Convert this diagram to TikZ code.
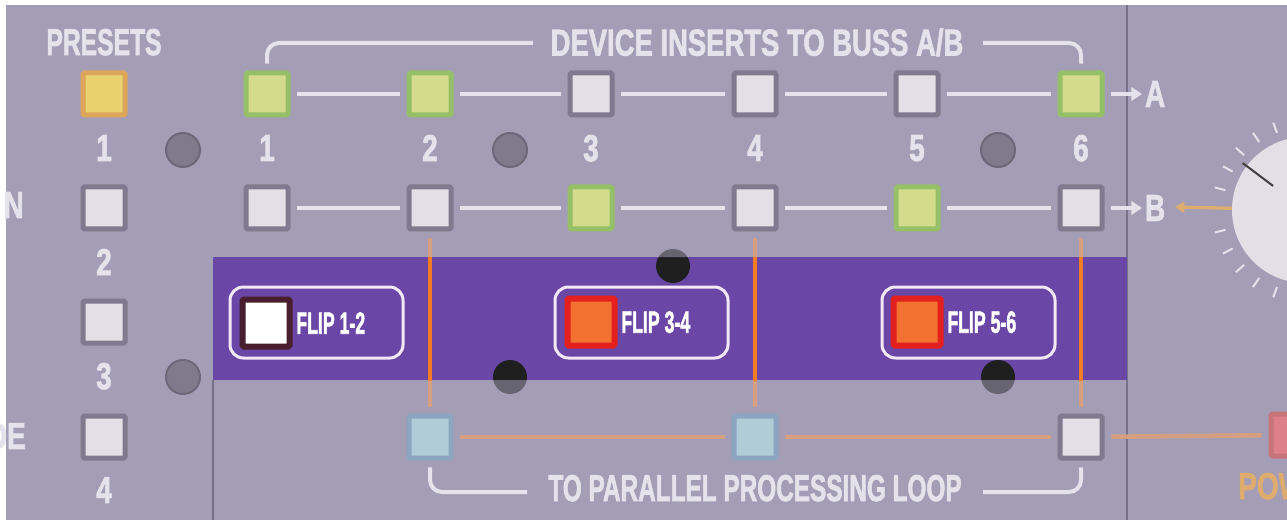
\documentclass[tikz,border=0pt]{standalone}
\usepackage{fontspec}
\setmainfont{Liberation Sans}[BoldFeatures={FakeBold=2.2}]
\usetikzlibrary{positioning,calc,arrows.meta}

\definecolor{panelgray}{RGB}{163,157,182}
\definecolor{bandpurple}{RGB}{106,70,166}
\definecolor{labelwhite}{RGB}{228,226,234}
\definecolor{btnoff}{RGB}{226,224,230}
\definecolor{rimoff}{RGB}{128,122,142}
\definecolor{btngreen}{RGB}{212,220,140}
\definecolor{rimgreen}{RGB}{150,192,104}
\definecolor{btnyellow}{RGB}{232,210,112}
\definecolor{rimyellow}{RGB}{220,165,90}
\definecolor{btnblue}{RGB}{176,204,214}
\definecolor{rimblue}{RGB}{140,165,192}
\definecolor{btnred}{RGB}{242,112,48}
\definecolor{rimred}{RGB}{228,32,30}
\definecolor{rimdark}{RGB}{72,30,46}
\definecolor{flipframe}{RGB}{242,232,246}
\definecolor{orangehot}{RGB}{244,124,36}
\definecolor{orangedim}{RGB}{214,160,128}
\definecolor{ledgray}{RGB}{128,122,140}
\definecolor{dividergray}{RGB}{118,112,138}
\definecolor{pwrred}{RGB}{222,128,136}
\definecolor{pwrtext}{RGB}{222,172,110}

\tikzset{
  btn/.style={rectangle, rounded corners=1pt, minimum size=31.5pt, inner sep=0pt,
    line width=3.75pt, draw=rimoff, fill=btnoff, outer sep=7pt},
  btnlit/.style={btn, draw=rimgreen, fill=btngreen},
  btnpreset/.style={btn, draw=rimyellow, fill=btnyellow},
  btnloop/.style={btn, draw=rimblue, fill=btnblue},
  btnpwr/.style={btn, draw=pwrred!90!black, fill=pwrred},
  flipbtn/.style={rectangle, rounded corners=1pt, minimum size=35.25pt, inner sep=0pt,
    line width=4.5pt, draw=rimred, fill=btnred, outer sep=0pt},
  flipbox/.style={rectangle, rounded corners=10pt, minimum width=129.75pt,
    minimum height=53.25pt, line width=2.25pt, draw=flipframe},
  panellabel/.style={text=labelwhite, font=\bfseries\fontsize{28}{30}\selectfont,
    inner sep=0pt, text depth=0pt, xscale=0.75},
  fliplabel/.style={panellabel, text=white, font=\bfseries\fontsize{23}{25}\selectfont, xscale=0.77},
  bus/.style={draw=labelwhite, line width=3.6pt},
  bracket/.style={draw=labelwhite, line width=3pt, rounded corners=9pt},
  busarrow/.style={bus, line width=3pt, -{Triangle[length=8pt,width=10pt]}},
  loopline/.style={draw=orangedim, line width=3.4pt},
  loophot/.style={draw=orangehot, line width=3.4pt},
  knobtick/.style={draw=labelwhite, line width=1.5pt},
}

\begin{document}
\begin{tikzpicture}[x=0.75pt,y=0.75pt,yscale=-1,xscale=1]
\useasboundingbox (0,0) rectangle (1287,520);
\clip (0,0) rectangle (1287,520);

%Shape: Rectangle [panel]
\fill[white] (0,0) rectangle (1287,520);
\fill[panelgray] (6,5) rectangle (1287,520);
%Straight Lines [dividers]
\draw[dividergray, line width=1pt] (1127,5) -- (1127,520);
\draw[dividergray, line width=1pt] (213,380) -- (213,520);
%Shape: Rectangle [purple band]
\fill[bandpurple] (213,257) rectangle (1127,380);

%Shape: Circle [leds]
\filldraw[fill=ledgray, draw=ledgray!85!black, line width=1.5pt] (183,150) circle (17) (510,150) circle (17) (998,150) circle (17) (183,377) circle (17);
%Shape: Circle [screws]
\fill[black!88] (673,266) circle (17) (510,377) circle (17) (998,377) circle (17);
\begin{scope}
\clip (0,0) rectangle (1287,257) (0,380) rectangle (1287,520);
\fill[panelgray, opacity=0.55] (673,266) circle (18) (510,377) circle (18) (998,377) circle (18);
\end{scope}

%Shape: Circle [knob]
\node[circle, fill=btnoff, minimum size=109.5pt] (knob) at (1305,210) {};
\draw[knobtick] ($(knob.center)+(110:82)$) -- ($(knob.center)+(110:93)$);
\draw[knobtick] ($(knob.center)+(124:82)$) -- ($(knob.center)+(124:93)$);
\draw[knobtick] ($(knob.center)+(138:82)$) -- ($(knob.center)+(138:93)$);
\draw[knobtick] ($(knob.center)+(152:82)$) -- ($(knob.center)+(152:93)$);
\draw[knobtick] ($(knob.center)+(166:82)$) -- ($(knob.center)+(166:93)$);
\draw[knobtick] ($(knob.center)+(194:82)$) -- ($(knob.center)+(194:93)$);
\draw[knobtick] ($(knob.center)+(208:82)$) -- ($(knob.center)+(208:93)$);
\draw[knobtick] ($(knob.center)+(222:82)$) -- ($(knob.center)+(222:93)$);
\draw[knobtick] ($(knob.center)+(236:82)$) -- ($(knob.center)+(236:93)$);
\draw[knobtick] ($(knob.center)+(250:82)$) -- ($(knob.center)+(250:93)$);
\draw[black!75, line width=1.5pt] ($(knob.center)+(217:40)$) -- ($(knob.center)+(217:78)$);

%Shape: Square [preset buttons]
\node[btnpreset] (p1) at (104,94) {};
\node[btn] (p2) at (104,208) {};
\node[btn] (p3) at (104,322) {};
\node[btn] (p4) at (104,437) {};
%Shape: Square [buss A buttons]
\node[btnlit] (a1) at (267,94) {};
\node[btnlit] (a2) at (430,94) {};
\node[btn] (a3) at (591,94) {};
\node[btn] (a4) at (755,94) {};
\node[btn] (a5) at (917,94) {};
\node[btnlit] (a6) at (1081,94) {};
%Shape: Square [buss B buttons]
\node[btn] (b1) at (267,208) {};
\node[btn] (b2) at (430,208) {};
\node[btnlit] (b3) at (591,208) {};
\node[btn] (b4) at (755,208) {};
\node[btnlit] (b5) at (917,208) {};
\node[btn] (b6) at (1081,208) {};
%Shape: Square [parallel loop buttons]
\node[btnloop] (c1) at (430,437) {};
\node[btnloop] (c2) at (755,437) {};
\node[btn] (c3) at (1081,437) {};
\node[btnpwr] (pwr) at (1292,435) {};
%Shape: Square [flip buttons]
\node[flipbtn, draw=rimdark, fill=white] (f1) at (266,323) {};
\node[flipbtn] (f2) at (591,322) {};
\node[flipbtn] (f3) at (917,322) {};
%Shape: Rounded Rectangle [flip frames]
\node[flipbox] (fr1) at (316.5,322.5) {};
\node[flipbox] (fr2) at (641.5,322.5) {};
\node[flipbox] (fr3) at (968.5,322.5) {};

%Straight Lines [buss A]
\draw[bus] (a1) -- (a2);
\draw[bus] (a2) -- (a3);
\draw[bus] (a3) -- (a4);
\draw[bus] (a4) -- (a5);
\draw[bus] (a5) -- (a6);
%Straight Lines [buss B]
\draw[bus] (b1) -- (b2);
\draw[bus] (b2) -- (b3);
\draw[bus] (b3) -- (b4);
\draw[bus] (b4) -- (b5);
\draw[bus] (b5) -- (b6);
%Straight Lines [brackets]
\coordinate (devL) at (533,43);
\coordinate (devR) at (983,43);
\draw[bracket] (a1) |- (devL);
\draw[bracket] (devR) -| (a6);
\coordinate (loopL) at (527,492);
\coordinate (loopR) at (983,492);
\draw[bracket] (c1) |- (loopL);
\draw[bracket] (loopR) -| (c3);
%Straight Lines [parallel loop]
\draw[loopline] (b2) -- (c1);
\draw[loopline] (b4) -- (c2);
\draw[loopline] (b6) -- (c3);
\begin{scope}
\clip (213,257) rectangle (1127,380);
\draw[loophot] (b2) -- (c1);
\draw[loophot] (b4) -- (c2);
\draw[loophot] (b6) -- (c3);
\end{scope}
\draw[loopline] (c1) -- (c2);
\draw[loopline] (c2) -- (c3);
\draw[loopline] (c3) -- (pwr);
\coordinate (knobtip) at (1175,207);
\draw[draw=pwrtext, line width=2.5pt, -{Triangle[length=7pt,width=8pt]}] (knob) -- (knobtip);

% Text Node
\node[panellabel, xscale=0.88] (presets) at (104,42) {PRESETS};
% Text Node
\node[panellabel, xscale=0.98] (devtitle) at (757,42) {DEVICE INSERTS TO BUSS A/B};
% Text Node
\node[panellabel, xscale=0.87] (looptitle) at (755,488) {TO PARALLEL PROCESSING LOOP};
% Text Node
\node[panellabel, anchor=west, outer sep=3pt] (busA) at (1142,94) {A};
\node[panellabel, anchor=west, outer sep=3pt] (busB) at (1142,208) {B};
\draw[busarrow] (a6) -- (busA);
\draw[busarrow] (b6) -- (busB);
% Text Node
\node[panellabel] (pn1) at (104,148) {1};
\node[panellabel] (pn2) at (104,262) {2};
\node[panellabel] (pn3) at (104,376) {3};
\node[panellabel] (pn4) at (104,490) {4};
% Text Node
\node[panellabel] (n1) at (267,148) {1};
\node[panellabel] (n2) at (430,148) {2};
\node[panellabel] (n3) at (591,148) {3};
\node[panellabel] (n4) at (755,148) {4};
\node[panellabel] (n5) at (917,148) {5};
\node[panellabel] (n6) at (1081,148) {6};
% Text Node
\node[fliplabel, right=5pt of f1] (ft1) {FLIP 1-2};
\node[fliplabel, right=5pt of f2] (ft2) {FLIP 3-4};
\node[fliplabel, right=5pt of f3] (ft3) {FLIP 5-6};
% Text Node
\node[panellabel, anchor=east] (edge2) at (24,205) {N};
\node[panellabel, anchor=east] (edge4) at (26,436) {DE};
\node[panellabel, anchor=west, text=pwrtext] (pwrlabel) at (1238,486) {POW};

\end{tikzpicture}
\end{document}
